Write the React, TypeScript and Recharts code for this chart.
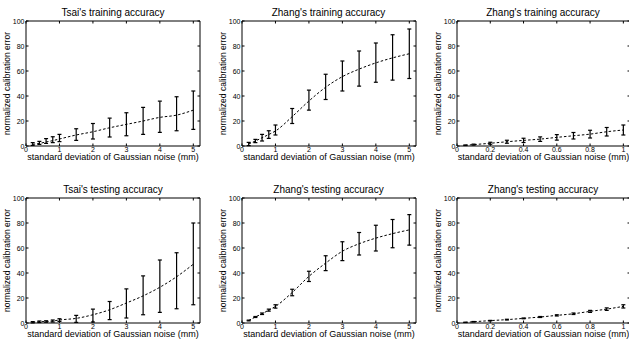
import { LineChart, Line, XAxis, YAxis, ErrorBar, ReferenceLine } from 'recharts';

// noise levels (mm)
const xWide = [0.2, 0.4, 0.6, 0.8, 1, 1.5, 2, 2.5, 3, 3.5, 4, 4.5, 5];
const xNarrow = [0.05, 0.1, 0.2, 0.3, 0.4, 0.5, 0.6, 0.7, 0.8, 0.9, 1];
const ticksWide = [0, 1, 2, 3, 4, 5];
const ticksNarrow = [0, 0.2, 0.4, 0.6, 0.8, 1];
const ticksY = [0, 20, 40, 60, 80, 100];

// dashed curve, error bar bottom, error bar top
const tsaiTrainCurve = [1.3, 2.1, 3.2, 4.3, 5.6, 8.8, 11.4, 14.6, 17.3, 20, 22.9, 24.7, 28.7];
const tsaiTrainLo = [0.5, 1.3, 2.1, 2.7, 3.5, 4.5, 5.6, 7.2, 8.2, 9.3, 10.9, 12.2, 13.3];
const tsaiTrainHi = [2.7, 3.7, 5.9, 7.4, 9.3, 13.8, 18, 22.3, 26.6, 30.9, 35.9, 39.4, 44];

const zhangTrainCurve = [1.6, 4, 6.6, 9.2, 12, 23.5, 36, 47, 55.5, 61.5, 66.5, 70.5, 73.8];
const zhangTrainLo = [0.3, 2.7, 4, 6.1, 8.8, 18, 28.7, 37.2, 44, 47.9, 51, 52.7, 54];
const zhangTrainHi = [2.9, 5.3, 9.3, 12.2, 16.8, 30, 44.7, 57.4, 68, 76, 82.4, 89, 93.6];

const zhangTrainZoomCurve = [0.6, 1.1, 2.2, 3.4, 4.5, 5.5, 6.9, 8.2, 9.5, 11.4, 12.8];
const zhangTrainZoomLo = [0.4, 0.7, 1.4, 2.2, 2.8, 3.7, 4.7, 5.6, 6.4, 8, 8.8];
const zhangTrainZoomHi = [0.8, 1.5, 3, 4.6, 6.2, 7.3, 9.1, 10.8, 12.6, 14.8, 16.8];

const tsaiTestCurve = [0.6, 1, 1.2, 1.6, 2.4, 3.7, 6.6, 10.6, 16, 21.7, 28.6, 37, 47];
const tsaiTestLo = [0.1, 0.4, 0.6, 0.8, 1.3, 0.5, 0.8, 2.7, 4, 6.6, 8.5, 11.4, 14.6];
const tsaiTestHi = [1.1, 1.6, 1.8, 2.4, 3.4, 6.1, 11.1, 17.2, 27.3, 37.7, 50.4, 56.2, 80];

const zhangTestCurve = [2, 4.8, 7.4, 10.3, 13.3, 24.4, 37.3, 47.9, 57.4, 63.4, 67.9, 71.5, 74.5];
const zhangTestLo = [1.7, 4.4, 6.8, 9.5, 11.9, 21.8, 33.2, 41.9, 49.9, 54.4, 57.6, 60.2, 62.3];
const zhangTestHi = [2.3, 5.2, 8, 11.1, 14.6, 27, 41.4, 53.8, 65, 72.4, 78.2, 82.8, 86.7];

const zhangTestZoomCurve = [0.5, 1, 1.9, 2.7, 3.7, 4.8, 6.1, 7.4, 9.3, 11.1, 13.3];
const zhangTestZoomLo = [0.4, 0.8, 1.7, 2.4, 3.4, 4.4, 5.6, 6.8, 8.5, 10.1, 12];
const zhangTestZoomHi = [0.6, 1.2, 2.1, 3, 4, 5.2, 6.6, 8, 10.1, 12.1, 14.6];

const FONT = '"Liberation Sans", Arial, sans-serif';
const CHART_W = 215;
const CHART_H = 170;
const PLOT_L = 26;
const PLOT_T = 21;
const PLOT_H = 125;

const toRows = (xs: number[], curve: number[], lo: number[], hi: number[]) =>
  xs.map((x, i) => ({ x, mean: curve[i], err: [curve[i] - lo[i], hi[i] - curve[i]] }));

interface PanelProps {
  title: string;
  xs: number[];
  curve: number[];
  lo: number[];
  hi: number[];
  xMax: number;
  xTicks: number[];
  plotW: number;
  left: number;
  top: number;
}

function Panel({ title, xs, curve, lo, hi, xMax, xTicks, plotW, left, top }: PanelProps) {
  const data = toRows(xs, curve, lo, hi);

  const XTick = (props: any) => {
    const { x, y, payload } = props;
    return (
      <g>
        <line x1={x} y1={y} x2={x} y2={y - 2.5} stroke="#000" />
        <line x1={x} y1={y - PLOT_H} x2={x} y2={y - PLOT_H + 2.5} stroke="#000" />
        <text x={x} y={y + 5.5} textAnchor="middle" fontSize={7} fontFamily={FONT} fill="#000">
          {String(payload.value)}
        </text>
      </g>
    );
  };

  const YTick = (props: any) => {
    const { x, y, payload } = props;
    return (
      <g>
        <line x1={x} y1={y} x2={x + 2.5} y2={y} stroke="#000" />
        <line x1={x + plotW - 2.5} y1={y} x2={x + plotW} y2={y} stroke="#000" />
        <text x={x - 1.5} y={y + 2.5} textAnchor="end" fontSize={7} fontFamily={FONT} fill="#000">
          {String(payload.value)}
        </text>
      </g>
    );
  };

  const XLabel = (props: any) => {
    const { viewBox } = props;
    return (
      <text
        x={viewBox.x + viewBox.width / 2}
        y={viewBox.y + 13.5}
        textAnchor="middle"
        fontSize={9}
        fontFamily={FONT}
        fill="#000"
      >
        standard deviation of Gaussian noise (mm)
      </text>
    );
  };

  const YLabel = () => {
    const cx = PLOT_L - 16;
    const cy = PLOT_T + PLOT_H / 2;
    return (
      <text
        x={cx}
        y={cy}
        transform={`rotate(-90 ${cx} ${cy})`}
        textAnchor="middle"
        fontSize={8.5}
        fontFamily={FONT}
        fill="#000"
      >
        normalized calibration error
      </text>
    );
  };

  return (
    <div style={{ position: 'absolute', left, top, width: CHART_W, height: CHART_H }}>
      <div
        style={{
          position: 'absolute',
          left: PLOT_L,
          width: plotW,
          top: 6.5,
          textAlign: 'center',
          fontSize: 10,
          lineHeight: '12px',
          fontFamily: FONT,
          whiteSpace: 'nowrap',
          color: '#000',
        }}
      >
        {title}
      </div>
      <LineChart
        width={CHART_W}
        height={CHART_H}
        data={data}
        margin={{ top: PLOT_T, right: CHART_W - PLOT_L - plotW, bottom: CHART_H - PLOT_T - PLOT_H - 20, left: PLOT_L - 20 }}
        style={{ overflow: 'visible' }}
      >
        <XAxis
          dataKey="x"
          type="number"
          domain={[0, xMax]}
          ticks={xTicks}
          height={20}
          tickSize={0}
          tickMargin={0}
          tick={<XTick />}
          tickLine={false}
          axisLine={{ stroke: '#000' }}
          interval={0}
          label={<XLabel />}
        />
        <YAxis
          type="number"
          domain={[0, 100]}
          ticks={ticksY}
          width={20}
          tickSize={0}
          tickMargin={0}
          tick={<YTick />}
          tickLine={false}
          axisLine={{ stroke: '#000' }}
          interval={0}
          label={<YLabel />}
        />
        <ReferenceLine x={xMax} stroke="#000" />
        <ReferenceLine y={100} stroke="#000" />
        <Line
          dataKey="mean"
          type="monotone"
          stroke="#000"
          strokeWidth={1}
          strokeDasharray="2.5 2"
          dot={false}
          isAnimationActive={false}
        >
          <ErrorBar dataKey="err" direction="y" width={2} stroke="#000" strokeWidth={1.2} isAnimationActive={false} />
        </Line>
      </LineChart>
    </div>
  );
}

export default function App() {
  return (
    <div
      style={{
        position: 'fixed',
        left: 0,
        top: 0,
        width: 629,
        height: 341,
        overflow: 'hidden',
        background: '#fff',
      }}
    >
      <Panel title="Tsai's training accuracy" xs={xWide} curve={tsaiTrainCurve} lo={tsaiTrainLo} hi={tsaiTrainHi}
        xMax={5.2} xTicks={ticksWide} plotW={174} left={0} top={0} />
      <Panel title="Zhang's training accuracy" xs={xWide} curve={zhangTrainCurve} lo={zhangTrainLo} hi={zhangTrainHi}
        xMax={5.2} xTicks={ticksWide} plotW={174} left={215.5} top={0} />
      <Panel title="Zhang's training accuracy" xs={xNarrow} curve={zhangTrainZoomCurve} lo={zhangTrainZoomLo} hi={zhangTrainZoomHi}
        xMax={1.04} xTicks={ticksNarrow} plotW={173} left={430.5} top={0} />
      <Panel title="Tsai's testing accuracy" xs={xWide} curve={tsaiTestCurve} lo={tsaiTestLo} hi={tsaiTestHi}
        xMax={5.2} xTicks={ticksWide} plotW={174} left={0} top={177} />
      <Panel title="Zhang's testing accuracy" xs={xWide} curve={zhangTestCurve} lo={zhangTestLo} hi={zhangTestHi}
        xMax={5.2} xTicks={ticksWide} plotW={174} left={215.5} top={177} />
      <Panel title="Zhang's testing accuracy" xs={xNarrow} curve={zhangTestZoomCurve} lo={zhangTestZoomLo} hi={zhangTestZoomHi}
        xMax={1.04} xTicks={ticksNarrow} plotW={173} left={430.5} top={177} />
    </div>
  );
}
